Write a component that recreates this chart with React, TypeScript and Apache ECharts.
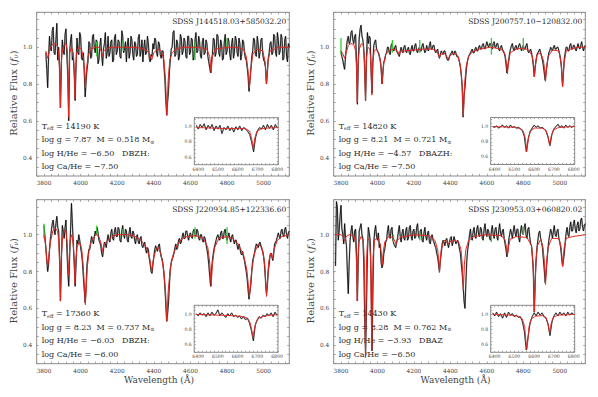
import React, { useEffect, useRef } from 'react';
import * as echarts from 'echarts';

// ---------------- DATA ----------------
const STEP = 5; // sampling of the observed main spectra (Å)
const INSET_STEP = 10; // sampling of the observed inset spectra (Å)

// Panel 1 : SDSS J144518.03+585032.20
const P1_START = 3810;
const P1_FLUX = [
  0.97, 0.88, 0.78, 0.95, 1.06, 0.99, 0.98, 1.09, 1.11, 0.97,
  0.96, 1.04, 1.13, 0.93, 1.0, 0.88, 0.67, 0.92, 1.04, 0.98,
  0.96, 1.07, 1.1, 0.95, 0.84, 0.6, 0.97, 1.04, 1.07, 0.93,
  0.95, 0.86, 0.71, 0.9, 1.05, 0.97, 0.96, 1.08, 1.06, 0.94,
  0.93, 0.97, 0.86, 0.73, 0.82, 0.88, 0.92, 1.03, 1.02, 0.94,
  0.95, 1.06, 1.07, 0.99, 0.97, 1.04, 1.03, 0.91, 0.93, 1.01,
  1.05, 0.96, 0.9, 0.99, 1.02, 1.08, 0.94, 0.97, 1.06, 0.95,
  0.97, 1.03, 1.04, 0.92, 0.93, 1.05, 1.07, 0.96, 0.98, 1.04,
  1.03, 0.95, 0.94, 1.09, 1.06, 0.97, 0.99, 1.03, 0.92, 1.01,
  1.05, 0.94, 0.97, 1.06, 1.04, 0.96, 0.93, 1.03, 1.02, 0.95,
  0.96, 1.05, 1.07, 0.95, 0.98, 1.04, 0.92, 0.99, 1.04, 0.96,
  0.97, 1.06, 1.02, 0.94, 0.92, 0.96, 0.95, 1.02, 0.99, 1.05,
  1.04, 0.97, 0.95, 1.03, 1.02, 0.96, 0.94, 0.98, 0.98, 0.9,
  0.83, 0.72, 0.63, 0.7, 0.76, 0.87, 0.93, 0.99, 1.0, 1.08,
  1.09, 0.95, 0.96, 1.04, 1.02, 0.93, 0.95, 1.07, 1.05, 0.96,
  0.98, 1.05, 1.03, 0.95, 0.94, 1.06, 1.06, 0.96, 0.97, 1.05,
  1.04, 0.93, 0.95, 1.04, 1.08, 0.97, 0.98, 1.06, 1.03, 0.95,
  0.94, 1.03, 1.05, 0.96, 0.97, 1.04, 1.02, 0.95, 0.92, 0.89,
  0.86, 0.93, 0.96, 1.05, 1.04, 0.95, 0.97, 1.07, 1.06, 0.97,
  0.95, 1.04, 1.02, 0.93, 0.94, 1.03, 1.07, 0.96, 0.98, 1.05,
  1.03, 0.96, 0.93, 1.02, 1.05, 0.94, 0.97, 1.06, 1.04, 0.97,
  0.95, 1.05, 1.02, 0.93, 0.96, 1.04, 1.03, 0.97, 0.94, 0.93,
  0.89, 0.84, 0.76, 0.82, 0.88, 0.95, 0.98, 1.05, 1.04, 0.96,
  0.95, 1.06, 1.02, 0.94, 0.97, 1.04, 1.05, 0.96, 0.93, 0.92,
  0.89, 0.8, 0.86, 0.94, 0.97, 1.02, 1.03, 0.96, 0.97, 1.07,
  1.06, 0.97, 0.95, 1.08, 1.04, 0.96, 0.98, 1.07, 1.05, 0.93,
  0.94, 1.04, 1.06, 0.95, 0.92, 1.02, 1.0,
];
const P1_MODEL = [
  [3810, 0.98], [3815, 0.96], [3820, 0.94], [3825, 0.96], [3832, 0.99], [3845, 1.015], [3860, 1.02],
  [3872, 1.01], [3880, 0.97], [3885, 0.88], [3889, 0.67], [3893, 0.88], [3898, 0.97], [3908, 1.01],
  [3920, 1.02], [3928, 0.98], [3932, 0.8], [3934, 0.62], [3936, 0.8], [3940, 0.97], [3950, 1.0],
  [3960, 0.97], [3966, 0.85], [3969, 0.72], [3972, 0.85], [3978, 0.97], [3990, 1.0], [4005, 0.99],
  [4015, 0.94], [4022, 0.86], [4026, 0.78], [4030, 0.86], [4040, 0.95], [4055, 0.99], [4080, 1.0],
  [4100, 1.0], [4112, 0.98], [4120, 0.95], [4126, 0.98], [4140, 0.99], [4160, 1.0], [4200, 1.0],
  [4300, 1.0], [4350, 0.99], [4375, 0.97], [4388, 0.93], [4400, 0.97], [4420, 0.99], [4440, 0.98],
  [4455, 0.93], [4464, 0.82], [4471, 0.63], [4478, 0.82], [4487, 0.93], [4500, 0.97], [4520, 0.99],
  [4560, 1.0], [4640, 1.0], [4690, 0.99], [4705, 0.95], [4713, 0.86], [4720, 0.95], [4735, 0.99],
  [4800, 1.0], [4850, 1.0], [4890, 0.99], [4905, 0.95], [4915, 0.87], [4922, 0.78], [4929, 0.87],
  [4940, 0.96], [4960, 0.99], [4995, 0.98], [5008, 0.92], [5016, 0.8], [5023, 0.92], [5035, 0.98],
  [5060, 0.99], [5080, 1.0], [5140, 1.0],
];
const P1_GREEN = [[4088, 0.95, 1.03], [4232, 0.98, 1.04], [4625, 0.93, 1.03], [4800, 1.0, 1.05]];

// Panel 2 : SDSS J200757.10-120832.00
const P2_START = 3800;
const P2_FLUX = [
  0.98, 0.95, 0.93, 0.9, 0.88, 0.95, 1.0, 1.04, 1.06, 1.02,
  1.03, 1.08, 1.09, 1.04, 1.02, 1.06, 1.07, 0.92, 0.69, 0.93,
  1.05, 1.1, 1.12, 1.06, 1.04, 0.99, 0.88, 0.71, 0.95, 1.08,
  1.02, 1.06, 1.05, 0.88, 0.75, 0.92, 1.01, 1.03, 1.04, 0.99,
  0.98, 0.97, 0.95, 0.93, 0.89, 0.8, 0.87, 0.92, 0.93, 0.96,
  0.97, 1.0, 1.0, 0.97, 0.96, 1.01, 1.02, 0.99, 0.98, 1.0,
  1.01, 0.98, 0.97, 0.96, 0.95, 0.98, 1.0, 0.98, 0.97, 1.0,
  1.01, 0.98, 0.97, 0.99, 1.0, 0.97, 0.96, 0.99, 1.01, 0.98,
  0.98, 1.01, 1.02, 0.98, 0.97, 0.99, 1.0, 0.98, 0.98, 1.01,
  1.02, 0.99, 0.97, 0.98, 1.01, 0.99, 0.98, 1.01, 1.03, 0.99,
  0.99, 1.01, 1.01, 0.98, 0.97, 0.98, 0.99, 0.96, 0.94, 0.96,
  0.98, 0.97, 0.96, 0.98, 0.98, 0.96, 0.94, 0.93, 0.93, 0.95,
  0.96, 0.97, 0.98, 0.96, 0.96, 0.98, 0.97, 0.95, 0.95, 0.94,
  0.92, 0.89, 0.85, 0.78, 0.62, 0.74, 0.78, 0.85, 0.9, 0.93,
  0.95, 0.96, 0.97, 0.98, 0.99, 0.97, 0.97, 0.99, 1.0, 0.98,
  0.98, 1.0, 1.01, 0.99, 0.99, 1.01, 1.02, 1.0, 0.99, 1.01,
  1.03, 1.01, 1.0, 1.02, 1.02, 1.0, 0.99, 1.02, 1.03, 1.0,
  1.0, 1.02, 1.02, 0.99, 0.98, 1.0, 1.01, 0.99, 0.98, 0.97,
  0.95, 0.91, 0.86, 0.9, 0.93, 0.97, 0.99, 1.01, 1.02, 0.99,
  0.98, 1.0, 1.01, 0.99, 0.99, 1.01, 1.02, 1.0, 0.98, 1.0,
  1.01, 0.99, 0.99, 1.01, 1.02, 0.98, 0.97, 0.98, 0.99, 0.97,
  0.94, 0.9, 0.84, 0.89, 0.93, 0.96, 0.97, 0.98, 0.99, 0.97,
  0.95, 0.93, 0.9, 0.86, 0.82, 0.87, 0.9, 0.94, 0.97, 0.98,
  1.0, 0.99, 0.98, 1.0, 1.01, 0.99, 0.99, 1.0, 1.0, 0.98,
  0.96, 0.93, 0.88, 0.79, 0.86, 0.94, 0.97, 1.0, 1.0, 0.98,
  0.98, 1.01, 1.02, 0.99, 0.99, 1.01, 1.01, 0.99, 0.98, 1.0,
  1.02, 1.0, 0.99, 1.01, 1.03, 1.0, 0.98, 1.0, 1.01,
];
const P2_MODEL = [
  [3800, 0.98], [3812, 0.96], [3820, 0.94], [3828, 0.97], [3840, 1.01], [3855, 1.02], [3870, 1.015],
  [3880, 0.98], [3885, 0.9], [3889, 0.7], [3893, 0.9], [3900, 0.99], [3912, 1.02], [3922, 1.01],
  [3929, 0.93], [3934, 0.71], [3939, 0.93], [3947, 1.0], [3958, 0.99], [3964, 0.92], [3969, 0.74],
  [3974, 0.92], [3982, 0.98], [3995, 0.99], [4010, 0.96], [4018, 0.91], [4026, 0.8], [4034, 0.91],
  [4045, 0.96], [4060, 0.98], [4090, 0.99], [4110, 0.98], [4120, 0.96], [4130, 0.98], [4150, 0.98],
  [4200, 0.985], [4250, 0.99], [4300, 0.99], [4325, 0.98], [4336, 0.955], [4340, 0.945], [4346, 0.96],
  [4365, 0.97], [4380, 0.95], [4388, 0.935], [4396, 0.95], [4415, 0.97], [4440, 0.955], [4455, 0.9],
  [4464, 0.8], [4471, 0.625], [4478, 0.8], [4487, 0.9], [4500, 0.95], [4520, 0.975], [4560, 0.99],
  [4620, 1.0], [4680, 0.99], [4700, 0.96], [4708, 0.91], [4713, 0.855], [4718, 0.91], [4728, 0.97],
  [4760, 0.99], [4800, 0.995], [4830, 0.985], [4850, 0.95], [4857, 0.9], [4861, 0.84], [4866, 0.9],
  [4875, 0.96], [4895, 0.97], [4910, 0.93], [4917, 0.88], [4922, 0.815], [4927, 0.88], [4936, 0.95],
  [4960, 0.985], [4995, 0.98], [5008, 0.91], [5016, 0.785], [5023, 0.91], [5035, 0.98], [5060, 0.99],
  [5100, 1.0], [5140, 1.0],
];
const P2_GREEN = [[3800, 0.96, 1.05], [4082, 0.97, 1.04], [4232, 0.97, 1.04], [4625, 0.96, 1.05], [4800, 0.98, 1.05]];

// Panel 3 : SDSS J220934.85+122336.60
const P3_START = 3800;
const P3_FLUX = [
  1.05, 0.99, 0.93, 0.86, 0.8, 0.84, 0.92, 0.98, 1.02, 1.06,
  1.08, 1.03, 1.0, 1.06, 1.1, 1.04, 1.02, 0.88, 0.64, 0.86,
  1.05, 1.02, 0.98, 1.04, 1.08, 0.92, 0.8, 0.72, 0.88, 1.03,
  1.17, 1.06, 0.95, 0.85, 0.72, 0.84, 0.97, 0.95, 1.0, 0.97,
  0.93, 0.9, 0.85, 0.77, 0.7, 0.63, 0.72, 0.84, 0.88, 0.92,
  0.92, 0.96, 0.99, 0.97, 0.95, 0.99, 1.02, 1.0, 1.04, 1.01,
  0.97, 0.96, 0.94, 0.9, 0.88, 0.92, 0.96, 0.95, 0.93, 0.97,
  1.0, 0.97, 0.96, 1.01, 1.03, 0.98, 0.97, 1.02, 1.04, 0.99,
  0.99, 1.04, 1.03, 0.97, 0.96, 1.02, 1.05, 1.0, 0.98, 1.03,
  1.02, 0.97, 0.96, 1.01, 1.04, 0.99, 0.98, 1.02, 1.01, 0.97,
  0.95, 0.99, 1.0, 0.96, 0.95, 0.98, 0.99, 0.94, 0.93, 0.95,
  0.96, 0.92, 0.9, 0.93, 0.92, 0.87, 0.84, 0.8, 0.79, 0.84,
  0.88, 0.92, 0.94, 0.92, 0.91, 0.94, 0.95, 0.91, 0.88, 0.87,
  0.84, 0.79, 0.72, 0.63, 0.53, 0.57, 0.63, 0.73, 0.81, 0.85,
  0.87, 0.88, 0.9, 0.93, 0.95, 0.92, 0.93, 0.97, 0.98, 0.95,
  0.96, 0.99, 1.01, 0.98, 0.98, 1.02, 1.02, 0.99, 0.97, 1.0,
  1.01, 0.99, 0.98, 1.02, 1.03, 1.0, 0.99, 1.03, 1.02, 0.98,
  0.97, 1.0, 1.0, 0.97, 0.96, 0.99, 0.98, 0.95, 0.92, 0.89,
  0.84, 0.78, 0.72, 0.8, 0.86, 0.9, 0.93, 0.95, 0.97, 0.99,
  1.0, 0.98, 0.97, 1.01, 1.02, 0.98, 0.98, 1.02, 1.03, 0.99,
  0.97, 0.99, 1.01, 0.98, 0.96, 0.99, 1.0, 0.97, 0.95, 0.97,
  0.97, 0.94, 0.92, 0.95, 0.93, 0.9, 0.89, 0.91, 0.88, 0.86,
  0.83, 0.8, 0.76, 0.7, 0.65, 0.69, 0.73, 0.8, 0.86, 0.88,
  0.9, 0.93, 0.95, 0.94, 0.93, 0.95, 0.96, 0.94, 0.92, 0.91,
  0.88, 0.83, 0.75, 0.68, 0.72, 0.8, 0.84, 0.89, 0.9, 0.88,
  0.86, 0.9, 0.95, 0.96, 0.97, 0.99, 1.01, 0.99, 0.98, 1.02,
  1.03, 1.0, 0.99, 1.03, 1.04, 1.0, 0.98, 1.01, 1.02,
];
const P3_MODEL = [
  [3800, 1.0], [3808, 0.95], [3815, 0.87], [3820, 0.83], [3826, 0.88], [3835, 0.96], [3848, 1.02],
  [3862, 1.035], [3874, 1.02], [3880, 0.97], [3885, 0.85], [3889, 0.64], [3893, 0.85], [3900, 0.97],
  [3910, 1.02], [3920, 1.02], [3927, 0.95], [3931, 0.84], [3934, 0.78], [3937, 0.85], [3942, 0.97],
  [3952, 1.0], [3960, 0.94], [3965, 0.85], [3969, 0.735], [3973, 0.85], [3980, 0.93], [3992, 0.96],
  [4005, 0.93], [4015, 0.82], [4026, 0.62], [4036, 0.82], [4048, 0.93], [4065, 0.98], [4085, 1.0],
  [4100, 0.99], [4112, 0.95], [4120, 0.91], [4128, 0.95], [4140, 0.96], [4150, 0.97], [4170, 0.99],
  [4200, 1.0], [4260, 1.0], [4300, 0.99], [4330, 0.97], [4360, 0.93], [4378, 0.87], [4388, 0.8],
  [4398, 0.87], [4412, 0.92], [4425, 0.93], [4440, 0.89], [4455, 0.8], [4464, 0.69], [4471, 0.53],
  [4478, 0.69], [4490, 0.82], [4505, 0.89], [4525, 0.94], [4550, 0.975], [4580, 0.99], [4630, 0.995],
  [4670, 0.98], [4695, 0.93], [4706, 0.84], [4713, 0.72], [4720, 0.84], [4732, 0.93], [4755, 0.98],
  [4800, 0.99], [4830, 0.98], [4860, 0.95], [4890, 0.89], [4908, 0.81], [4922, 0.665], [4935, 0.81],
  [4950, 0.9], [4970, 0.95], [4990, 0.93], [5005, 0.85], [5016, 0.665], [5027, 0.85], [5038, 0.9],
  [5048, 0.87], [5056, 0.92], [5075, 0.97], [5100, 0.99], [5140, 1.0],
];
const P3_GREEN = [[3800, 0.98, 1.06], [4088, 1.0, 1.05], [4232, 0.99, 1.03], [4625, 0.98, 1.04], [4800, 0.95, 1.04]];

// Panel 4 : SDSS J230953.03+060820.02
const P4_START = 3770;
const P4_FLUX = [
  0.83, 1.18, 1.15, 0.97, 1.02, 1.1, 1.16, 1.03, 1.0, 0.95,
  1.06, 0.98, 0.94, 0.8, 0.68, 0.85, 0.97, 1.02, 1.05, 0.99,
  0.96, 1.02, 1.03, 0.9, 0.64, 0.88, 1.02, 1.04, 1.06, 1.0,
  0.98, 0.85, 0.55, 0.36, 0.62, 0.9, 1.04, 1.01, 0.97, 0.78,
  0.37, 0.7, 0.96, 1.02, 1.05, 0.99, 0.97, 1.01, 0.93, 0.95,
  0.85, 0.82, 0.84, 0.9, 0.92, 0.96, 0.97, 1.02, 1.05, 0.99,
  0.98, 1.03, 1.04, 0.97, 0.95, 0.94, 0.93, 0.96, 0.98, 1.02,
  1.05, 0.99, 0.96, 1.01, 1.03, 0.98, 0.97, 1.02, 1.04, 0.97,
  0.98, 1.04, 1.05, 0.99, 0.97, 1.02, 1.03, 0.98, 0.99, 1.04,
  1.06, 0.99, 0.98, 1.02, 1.03, 0.97, 0.96, 1.01, 1.04, 0.99,
  0.97, 1.01, 1.02, 0.96, 0.95, 0.99, 1.0, 0.97, 0.96, 0.94,
  0.93, 0.9, 0.88, 0.84, 0.8, 0.86, 0.9, 0.95, 0.97, 0.96,
  0.94, 0.97, 0.98, 0.95, 0.93, 0.96, 0.98, 0.99, 0.94, 0.96,
  0.99, 0.97, 0.95, 0.96, 0.97, 0.95, 0.92, 0.9, 0.84, 0.79,
  0.72, 0.64, 0.6, 0.74, 0.86, 0.92, 0.95, 1.0, 1.03, 0.98,
  0.97, 1.02, 1.04, 0.99, 0.98, 1.03, 1.05, 1.0, 0.99, 1.04,
  1.03, 0.98, 0.97, 1.03, 1.06, 1.01, 0.99, 1.03, 1.02, 0.98,
  0.97, 1.02, 1.05, 1.0, 0.98, 1.03, 1.04, 0.99, 0.97, 1.02,
  1.06, 1.01, 0.99, 1.02, 1.03, 0.98, 0.95, 0.92, 0.88, 0.91,
  0.97, 1.0, 1.03, 1.01, 0.98, 1.02, 1.05, 1.01, 0.99, 1.03,
  1.03, 0.98, 0.96, 1.02, 1.05, 1.01, 1.0, 1.04, 1.06, 1.0,
  0.98, 1.03, 1.04, 0.99, 0.95, 0.94, 0.88, 0.8, 0.58, 0.75,
  0.86, 0.93, 0.97, 1.01, 1.02, 0.98, 0.96, 0.93, 0.87, 0.81,
  0.74, 0.8, 0.86, 0.92, 0.97, 1.0, 1.03, 1.01, 0.98, 1.02,
  1.05, 1.0, 0.99, 1.02, 1.03, 0.98, 0.96, 0.93, 0.88, 0.83,
  0.86, 0.9, 0.96, 1.01, 1.04, 1.0, 0.99, 1.04, 1.07, 1.02,
  1.02, 1.06, 1.08, 1.03, 1.01, 1.05, 1.07, 1.02, 1.03, 1.08,
  1.09, 1.04, 1.02, 1.05, 1.06,
];
const P4_MODEL = [
  [3770, 1.0], [3800, 1.0], [3812, 0.99], [3820, 0.965], [3828, 0.99], [3845, 1.0], [3870, 0.995],
  [3880, 0.96], [3885, 0.86], [3889, 0.64], [3893, 0.86], [3898, 0.96], [3910, 0.99], [3922, 0.97],
  [3928, 0.85], [3931, 0.6], [3934, 0.337], [3937, 0.6], [3940, 0.85], [3946, 0.97], [3955, 0.98],
  [3962, 0.88], [3966, 0.6], [3969, 0.377], [3972, 0.6], [3976, 0.88], [3984, 0.97], [4000, 0.985],
  [4015, 0.95], [4021, 0.9], [4026, 0.836], [4031, 0.9], [4040, 0.96], [4060, 0.99], [4085, 0.985],
  [4095, 0.965], [4102, 0.95], [4110, 0.97], [4125, 0.985], [4200, 1.0], [4280, 0.995], [4315, 0.97],
  [4330, 0.92], [4336, 0.86], [4340, 0.795], [4344, 0.86], [4350, 0.92], [4365, 0.97], [4380, 0.96],
  [4388, 0.95], [4396, 0.96], [4420, 0.97], [4445, 0.96], [4458, 0.92], [4465, 0.84], [4471, 0.7],
  [4477, 0.84], [4485, 0.92], [4500, 0.97], [4530, 0.99], [4600, 1.0], [4680, 0.995], [4700, 0.97],
  [4708, 0.93], [4713, 0.89], [4718, 0.93], [4728, 0.975], [4760, 0.99], [4820, 0.985], [4845, 0.94],
  [4853, 0.85], [4858, 0.7], [4861, 0.58], [4864, 0.7], [4869, 0.85], [4877, 0.94], [4895, 0.975],
  [4908, 0.93], [4916, 0.85], [4922, 0.73], [4928, 0.85], [4936, 0.93], [4955, 0.98], [4995, 0.98],
  [5008, 0.93], [5016, 0.827], [5024, 0.93], [5035, 0.98], [5070, 0.99], [5140, 1.0],
];
const P4_GREEN = [[4088, 0.96, 1.0], [4232, 0.97, 1.02], [4625, 0.96, 0.99], [4800, 1.0, 1.04]];

// Insets (6400-6800 Å)
const INSET_START = 6390;
const I1_FLUX = [
  1.02, 0.97, 1.03, 0.99, 1.04, 0.96, 1.02, 0.98, 1.03, 0.95,
  1.01, 0.97, 1.02, 0.91, 0.99, 0.96, 1.01, 0.95, 0.99, 0.93,
  1.0, 0.96, 1.01, 0.95, 0.99, 0.97, 0.94, 0.9, 0.8, 0.67,
  0.86, 0.95, 0.99, 0.97, 1.02, 0.96, 1.03, 0.98, 1.02, 0.96,
  1.03, 0.99,
];
const I1_MODEL = [
  [6390, 0.99], [6450, 0.985], [6500, 0.98], [6560, 0.975], [6600, 0.98], [6640, 0.975], [6660, 0.94],
  [6670, 0.85], [6678, 0.72], [6686, 0.85], [6696, 0.94], [6720, 0.975], [6760, 0.985], [6805, 0.99],
];
const I2_FLUX = [
  1.0, 0.99, 1.01, 0.98, 1.0, 1.02, 0.99, 1.01, 0.98, 1.02,
  0.99, 1.0, 0.98, 0.99, 0.97, 0.95, 0.87, 0.67, 0.84, 0.94,
  0.98, 1.02, 0.99, 1.01, 0.98, 0.99, 0.97, 0.94, 0.86, 0.75,
  0.9, 0.97, 1.0, 1.03, 0.99, 1.01, 0.98, 1.02, 0.99, 1.01,
  0.99, 1.01,
];
const I2_MODEL = [
  [6390, 1.0], [6450, 0.995], [6500, 0.99], [6530, 0.975], [6545, 0.94], [6555, 0.85], [6563, 0.67],
  [6571, 0.85], [6581, 0.94], [6600, 0.98], [6640, 0.98], [6660, 0.95], [6670, 0.87], [6678, 0.75],
  [6686, 0.87], [6696, 0.95], [6720, 0.985], [6760, 0.995], [6805, 1.0],
];
const I3_FLUX = [
  1.01, 0.98, 1.02, 0.99, 1.01, 0.97, 1.02, 0.98, 1.03, 0.99,
  1.01, 1.06, 0.98, 1.02, 0.99, 0.96, 1.01, 0.98, 1.02, 0.97,
  0.99, 0.96, 0.98, 0.94, 0.97, 0.93, 0.95, 0.89, 0.79, 0.65,
  0.86, 0.93, 0.97, 0.95, 0.99, 0.97, 1.01, 0.98, 1.02, 0.97,
  1.03, 0.99,
];
const I3_MODEL = [
  [6390, 1.0], [6450, 0.995], [6500, 0.99], [6560, 0.985], [6600, 0.98], [6630, 0.97], [6650, 0.95],
  [6662, 0.9], [6670, 0.82], [6678, 0.7], [6686, 0.82], [6694, 0.9], [6708, 0.95], [6730, 0.975],
  [6770, 0.99], [6805, 0.995],
];
const I4_FLUX = [
  1.02, 0.98, 1.03, 0.97, 1.01, 0.95, 1.02, 0.96, 1.03, 0.99,
  1.01, 0.97, 0.99, 0.96, 0.97, 0.91, 0.78, 0.53, 0.72, 0.9,
  0.97, 1.02, 0.98, 1.03, 0.99, 1.02, 0.97, 0.95, 0.87, 0.72,
  0.9, 0.98, 1.02, 0.98, 1.03, 0.99, 1.02, 0.98, 1.03, 0.99,
  1.02, 1.0,
];
const I4_MODEL = [
  [6390, 1.0], [6480, 0.99], [6520, 0.975], [6540, 0.94], [6552, 0.84], [6560, 0.6], [6563, 0.54],
  [6566, 0.6], [6574, 0.84], [6586, 0.94], [6605, 0.975], [6640, 0.985], [6660, 0.96], [6670, 0.88],
  [6678, 0.76], [6686, 0.88], [6696, 0.96], [6720, 0.99], [6805, 1.0],
];

// Labels
const NAMES = ['SDSS J144518.03+585032.20', 'SDSS J200757.10\u2212120832.00', 'SDSS J220934.85+122336.60', 'SDSS J230953.03+060820.02'];
const TEFF = ['14190', '14820', '17360', '14430'];
const LOGG = ['7.87', '8.21', '8.23', '8.28'];
const MASS = ['0.518', '0.721', '0.737', '0.762'];
const LOGHHE = ['\u22126.50', '\u22124.57', '\u22126.03', '\u22123.93'];
const SPTYPE = ['DBZH:', 'DBAZH:', 'DBZH:', 'DBAZ'];
const LOGCAHE = ['\u22127.50', '\u22127.50', '\u22126.00', '\u22126.50'];

// Axis ranges and ticks
const MAIN_X = { min: 3760, max: 5140, interval: 40, label: 200 };
const MAIN_Y = { min: 0.3, max: 1.19, interval: 0.05, labels: [0.4, 0.6, 0.8, 1.0] };
const INSET_X = { min: 6380, max: 6805, interval: 20, label: 100 };
const INSET_Y = { min: 0.5, max: 1.12, interval: 0.05, labels: [0.6, 0.8, 1.0] };

// ---------------- LAYOUT ----------------
const FONT = '"DejaVu Serif", "Liberation Serif", serif';
const FRAME = '#8a8a8a';
const TXT = '#2a2a2a';

const PANELS = [
  { left: 36.7, top: 12.3, w: 252.6, h: 163.7, inset: { left: 194.3, top: 117.7, w: 84, h: 47 } },
  { left: 333.7, top: 12.3, w: 251.6, h: 163.7, inset: { left: 490.7, top: 117.5, w: 84, h: 47 } },
  { left: 36.7, top: 199.7, w: 252.6, h: 164, inset: { left: 194.2, top: 305.3, w: 83.8, h: 47 } },
  { left: 333.7, top: 199.7, w: 251.6, h: 164, inset: { left: 490.7, top: 305.3, w: 84, h: 47 } },
];

const SPECTRA = [
  { start: P1_START, flux: P1_FLUX, model: P1_MODEL, green: P1_GREEN, iflux: I1_FLUX, imodel: I1_MODEL },
  { start: P2_START, flux: P2_FLUX, model: P2_MODEL, green: P2_GREEN, iflux: I2_FLUX, imodel: I2_MODEL },
  { start: P3_START, flux: P3_FLUX, model: P3_MODEL, green: P3_GREEN, iflux: I3_FLUX, imodel: I3_MODEL },
  { start: P4_START, flux: P4_FLUX, model: P4_MODEL, green: P4_GREEN, iflux: I4_FLUX, imodel: I4_MODEL },
];

function xFmt(step: number) {
  return (v: number) => (Math.abs(v / step - Math.round(v / step)) < 1e-6 ? String(Math.round(v)) : '');
}
function yFmt(labels: number[]) {
  return (v: number) => {
    const hit = labels.find((l) => Math.abs(l - v) < 1e-6);
    return hit !== undefined ? hit.toFixed(1) : '';
  };
}

function buildOption() {
  const grids: any[] = [];
  const xAxes: any[] = [];
  const yAxes: any[] = [];
  const series: any[] = [];
  const graphics: any[] = [];

  const addGrid = (g: any, inset: boolean) => {
    const gi = grids.length;
    grids.push({
      left: g.left, top: g.top, width: g.w, height: g.h,
      show: true, borderColor: FRAME, borderWidth: 1, backgroundColor: 'transparent',
    });
    const X = inset ? INSET_X : MAIN_X;
    const Y = inset ? INSET_Y : MAIN_Y;
    const fs = inset ? 4.6 : 5.8;
    const tickLen = inset ? 1.5 : 2.2;
    ['bottom', 'top'].forEach((pos, k) => {
      xAxes.push({
        type: 'value', gridIndex: gi, position: pos, min: X.min, max: X.max, interval: X.interval,
        axisLine: { show: false }, splitLine: { show: false },
        axisTick: { show: true, inside: true, length: tickLen, lineStyle: { color: FRAME, width: 0.7 } },
        axisLabel: {
          show: k === 0, formatter: xFmt(X.label), fontSize: fs, fontFamily: FONT, color: '#444',
          margin: inset ? 2 : 4, showMinLabel: true, showMaxLabel: true, hideOverlap: false,
        },
      });
    });
    ['left', 'right'].forEach((pos, k) => {
      yAxes.push({
        type: 'value', gridIndex: gi, position: pos, min: Y.min, max: Y.max, interval: Y.interval,
        axisLine: { show: false }, splitLine: { show: false },
        axisTick: { show: true, inside: true, length: tickLen, lineStyle: { color: FRAME, width: 0.7 } },
        axisLabel: {
          show: k === 0, formatter: yFmt(Y.labels), fontSize: fs, fontFamily: FONT, color: '#444',
          margin: inset ? 2.5 : 4.5, hideOverlap: false,
        },
      });
    });
    return gi;
  };

  const line = (gi: number, data: any[], color: string, width: number, z: number) => ({
    type: 'line', xAxisIndex: 2 * gi, yAxisIndex: 2 * gi, data, showSymbol: false, symbol: 'none',
    lineStyle: { color, width }, z, silent: true, clip: true, animation: false,
  });

  PANELS.forEach((p, i) => {
    const s = SPECTRA[i];
    const gm = addGrid(p, false);
    const obs = s.flux.map((f, k) => [s.start + k * STEP, f]);
    series.push(line(gm, obs, 'rgba(0,0,0,0.3)', 1.6, 2));
    series.push(line(gm, obs, '#000', 0.8, 3));
    s.green.forEach((gseg) => {
      series.push(line(gm, [[gseg[0], gseg[1]], [gseg[0], gseg[2]]], '#33cc33', 1.3, 4));
    });
    series.push(line(gm, s.model, '#e3261f', 1, 5));

    const gi = addGrid(p.inset, true);
    const iobs = s.iflux.map((f, k) => [INSET_START + k * INSET_STEP, f]);
    series.push(line(gi, iobs, 'rgba(0,0,0,0.3)', 1.3, 2));
    series.push(line(gi, iobs, '#000', 0.7, 3));
    series.push(line(gi, s.imodel, '#e3261f', 0.9, 5));

    // title
    graphics.push({
      type: 'text', x: p.left + p.w - 3, y: p.top + 9.5, z: 1,
      style: { text: NAMES[i], fontSize: 7.5, fontFamily: FONT, fill: TXT, align: 'right', verticalAlign: 'middle' },
    });
    // annotations
    const rich = {
      n: { fontSize: 8, fontFamily: FONT, fill: TXT },
      s: { fontSize: 5, fontFamily: FONT, fill: TXT, padding: [4, 0, 0, 0] },
    };
    const rows = [
      `{n|T}{s|eff}{n| = ${TEFF[i]} K}`,
      `{n|log g = ${LOGG[i]}  M = ${MASS[i]} M}{s|\u2299}`,
      `{n|log H/He = ${LOGHHE[i]}   ${SPTYPE[i]}}`,
      `{n|log Ca/He = ${LOGCAHE[i]}}`,
    ];
    rows.forEach((t, r) => {
      graphics.push({
        type: 'text', x: p.left + 5, y: p.top + 114 + r * 13.5, z: 1,
        style: { text: t, rich, fontSize: 8, fontFamily: FONT, fill: TXT, align: 'left', verticalAlign: 'middle' },
      });
    });
    // y axis title
    graphics.push({
      type: 'text', x: p.left - 23, y: p.top + p.h / 2 - 1, rotation: Math.PI / 2, z: 1,
      style: {
        text: '{n|Relative Flux (}{i|f}{s|\u03bd}{n|)}',
        rich: {
          n: { fontSize: 10, fontFamily: FONT, fill: '#444' },
          i: { fontSize: 10, fontFamily: FONT, fill: '#444', fontStyle: 'italic' },
          s: { fontSize: 6.5, fontFamily: FONT, fill: '#444', padding: [4, 0, 0, 0] },
        },
        fontSize: 10, fontFamily: FONT, fill: '#444', align: 'center', verticalAlign: 'middle',
      },
    });
    if (i >= 2) {
      graphics.push({
        type: 'text', x: p.left + p.w / 2 - 4, y: 380, z: 1,
        style: { text: 'Wavelength (\u00c5)', fontSize: 9, fontFamily: FONT, fill: '#444', align: 'center', verticalAlign: 'middle' },
      });
    }
  });

  return {
    animation: false,
    backgroundColor: '#ffffff',
    grid: grids,
    xAxis: xAxes,
    yAxis: yAxes,
    series,
    graphic: { elements: graphics },
  };
}

export default function App() {
  const ref = useRef<HTMLDivElement>(null);
  useEffect(() => {
    if (!ref.current) return;
    const chart = echarts.init(ref.current, undefined, { renderer: 'svg' });
    chart.setOption(buildOption() as any);
    return () => chart.dispose();
  }, []);
  return (
    <div
      ref={ref}
      style={{ position: 'absolute', left: 0, top: 0, width: 598, height: 397, background: '#fff' }}
    />
  );
}
